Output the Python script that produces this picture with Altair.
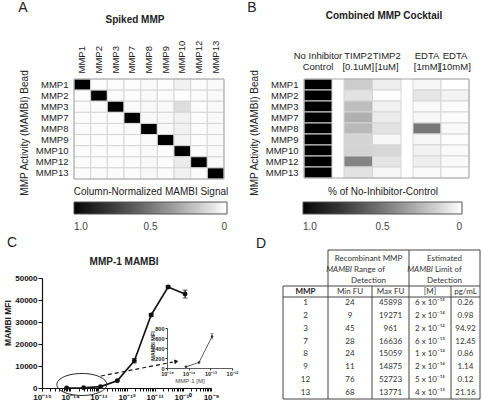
import altair as alt
import pandas as pd

SANS = "Liberation Sans"
TAB = "Lato"
INK = "#222222"

# ---------------- Panel A data (column-normalized signal, per spiked MMP column) ----------------
beads = ["MMP1", "MMP2", "MMP3", "MMP7", "MMP8", "MMP9", "MMP10", "MMP12", "MMP13"]
spiked = ["MMP1", "MMP2", "MMP3", "MMP7", "MMP8", "MMP9", "MMP10", "MMP12", "MMP13"]
a_col_mmp1 = [1.00, 0.01, 0.01, 0.01, 0.01, 0.01, 0.01, 0.01, 0.01]
a_col_mmp2 = [0.01, 1.00, 0.01, 0.01, 0.01, 0.01, 0.01, 0.01, 0.01]
a_col_mmp3 = [0.01, 0.01, 1.00, 0.01, 0.01, 0.01, 0.01, 0.01, 0.01]
a_col_mmp7 = [0.01, 0.01, 0.01, 1.00, 0.02, 0.01, 0.01, 0.01, 0.01]
a_col_mmp8 = [0.02, 0.02, 0.02, 0.02, 1.00, 0.02, 0.02, 0.02, 0.02]
a_col_mmp9 = [0.01, 0.01, 0.02, 0.02, 0.02, 1.00, 0.01, 0.01, 0.01]
a_col_mmp10 = [0.05, 0.00, 0.12, 0.05, 0.05, 0.04, 1.00, 0.07, 0.05]
a_col_mmp12 = [0.01, 0.01, 0.01, 0.01, 0.01, 0.01, 0.01, 1.00, 0.01]
a_col_mmp13 = [0.02, 0.02, 0.02, 0.02, 0.02, 0.02, 0.02, 0.02, 1.00]
a_cols = [a_col_mmp1, a_col_mmp2, a_col_mmp3, a_col_mmp7, a_col_mmp8,
          a_col_mmp9, a_col_mmp10, a_col_mmp12, a_col_mmp13]

# ---------------- Panel B data (% of no-inhibitor control) ----------------
b_conditions = ["No Inhibitor|Control", "TIMP2|[0.1uM]", "TIMP2|[1uM]", "EDTA|[1mM]", "EDTA|[10mM]"]
b_no_inhibitor = [1.0, 1.0, 1.0, 1.0, 1.0, 1.0, 1.0, 1.0, 1.0]
b_timp2_01 = [0.18, 0.10, 0.23, 0.28, 0.25, 0.15, 0.15, 0.45, 0.10]
b_timp2_1 = [0.06, 0.00, 0.05, 0.07, 0.10, 0.03, 0.14, 0.09, 0.03]
b_edta_1 = [0.03, 0.09, 0.02, 0.03, 0.50, 0.03, 0.05, 0.06, 0.02]
b_edta_10 = [0.00, 0.04, 0.01, 0.01, 0.02, 0.01, 0.02, 0.02, 0.01]
b_cols = [b_no_inhibitor, b_timp2_01, b_timp2_1, b_edta_1, b_edta_10]

# ---------------- Panel C data (MMP-1 MAMBI dilution series) ----------------
c_conc = [7.5e-15, 3.0e-14, 1.2e-13, 4.7e-13, 1.9e-12, 7.5e-12, 3.0e-11, 1.2e-10]
c_mfi = [24, 110, 630, 3300, 12400, 33200, 45898, 42700]
c_err = [5, 10, 60, 300, 1000, 600, 500, 1800]

# ---------------- Panel D table ----------------
d_mmp = ["1", "2", "3", "7", "8", "9", "12", "13"]
d_min_fu = ["24", "9", "45", "28", "24", "11", "76", "68"]
d_max_fu = ["45898", "19271", "961", "16636", "15059", "14875", "52723", "13771"]
d_lod_m = ["6 x 10⁻¹⁵", "2 x 10⁻¹⁴", "2 x 10⁻¹²", "6 x 10⁻¹³",
           "1 x 10⁻¹⁴", "2 x 10⁻¹⁴", "5 x 10⁻¹⁵", "4 x 10⁻¹³"]
d_lod_pg = ["0.26", "0.98", "94.92", "12.45", "0.86", "1.14", "0.12", "21.16"]

ONE = alt.Data(values=[{}])


def txt(text, x, y, size=10, weight="normal", angle=0, align="center", font=SANS,
        color=INK, style="normal"):
    return alt.Chart(ONE).mark_text(
        text=text, fontSize=size, fontWeight=weight, angle=angle, align=align,
        baseline="middle", font=font, color=color, fontStyle=style
    ).encode(x=alt.value(x), y=alt.value(y))


def rule(x1, y1, x2, y2, color="#444", width=1.0):
    return alt.Chart(ONE).mark_rule(color=color, strokeWidth=width).encode(
        x=alt.value(x1), y=alt.value(y1), x2=alt.value(x2), y2=alt.value(y2))


def frame(x1, y1, x2, y2, color="#999"):
    return alt.Chart(ONE).mark_rect(fill=None, stroke=color, strokeWidth=1).encode(
        x=alt.value(x1), y=alt.value(y1), x2=alt.value(x2), y2=alt.value(y2))


def gray_legend(x, length, title, show=True):
    if not show:
        return None
    return alt.Legend(
        orient="none", legendX=x, legendY=187, direction="horizontal",
        gradientLength=length, gradientThickness=12, title=title,
        titleFont=SANS, titleFontSize=10, titleFontWeight="normal", titleColor=INK,
        titleAnchor="middle", titlePadding=5, values=[1, 0.5, 0],
        labelExpr="datum.value == 0 ? '0' : format(datum.value, '.1f')",
        labelFont=SANS, labelFontSize=10, labelColor="#444", labelAlign="center",
        labelOffset=8, labelOverlap=False, gradientStrokeColor="#555",
        gradientStrokeWidth=1, padding=0)


gray_scale = alt.Scale(domain=[1, 0], range=["#000000", "#ffffff"])

# ---------------- Panel A ----------------
a_df = pd.DataFrame([
    {"spiked": s, "bead": b, "v": a_cols[j][i]}
    for j, s in enumerate(spiked) for i, b in enumerate(beads)
])
a_rect = alt.Chart(a_df).mark_rect(stroke="#d6d6d6", strokeWidth=1).encode(
    x=alt.X("spiked:N", sort=spiked,
            scale=alt.Scale(range=[74, 224], paddingInner=0, paddingOuter=0),
            axis=alt.Axis(orient="top", offset=-79, title=None, ticks=False, domain=False,
                          labelAngle=-90, labelPadding=6, labelFont=SANS, labelFontSize=9.5,
                          labelColor=INK)),
    y=alt.Y("bead:N", sort=beads,
            scale=alt.Scale(range=[79, 179], paddingInner=0, paddingOuter=0),
            axis=alt.Axis(orient="left", offset=-74, title=None, ticks=False, domain=False,
                          labelPadding=6, labelFont=SANS, labelFontSize=9.5, labelColor=INK)),
    color=alt.Color("v:Q", scale=gray_scale,
                    legend=gray_legend(74, 153, "Column-Normalized MAMBI Signal")),
)

# ---------------- Panel B ----------------
b_df = pd.DataFrame([
    {"cond": c, "bead": b, "v": b_cols[j][i]}
    for j, c in enumerate(b_conditions) for i, b in enumerate(beads)
])


def b_group(conds, xr, first):
    return alt.Chart(b_df).transform_filter(
        alt.FieldOneOfPredicate(field="cond", oneOf=conds)
    ).mark_rect(stroke="#d6d6d6", strokeWidth=1).encode(
        x=alt.X("cond:N", sort=conds,
                scale=alt.Scale(domain=conds, range=xr, paddingInner=0, paddingOuter=0),
                axis=alt.Axis(orient="top", offset=-79, title=None, ticks=False, domain=False,
                              labelAngle=0, labelPadding=19, labelFont=SANS, labelFontSize=9.5,
                              labelColor=INK, labelLineHeight=11, labelBaseline="bottom",
                              labelOverlap=False, labelExpr="split(datum.label, '|')")),
        y=alt.Y("bead:N", sort=beads,
                scale=alt.Scale(range=[79, 178], paddingInner=0, paddingOuter=0),
                axis=(alt.Axis(orient="left", offset=-304, title=None, ticks=False,
                               domain=False, labelPadding=6, labelFont=SANS,
                               labelFontSize=9.5, labelColor=INK) if first else None)),
        color=alt.Color("v:Q", scale=gray_scale,
                        legend=gray_legend(303, 159, "% of No-Inhibitor-Control", first)),
    )


b1 = b_group(b_conditions[0:1], [304, 332], True)
b2 = b_group(b_conditions[1:3], [344, 401], False)
b3 = b_group(b_conditions[3:5], [413, 469], False)

# ---------------- Panel C ----------------
c_df = pd.DataFrame({"conc": c_conc, "mfi": c_mfi, "err": c_err})

sup = {-15: "⁻¹⁵", -14: "⁻¹⁴", -13: "⁻¹³", -12: "⁻¹²", -11: "⁻¹¹", -10: "⁻¹⁰", -9: "⁻⁹"}
exp_expr = "round(log(datum.value)/LN10)"
lab = "''"
for k in sorted(sup):
    lab = f"{exp_expr} == {k} ? '10{sup[k]}' : ({lab})"
c_label_expr = f"abs(log(datum.value)/LN10 - {exp_expr}) > 0.01 ? '' : ({lab})"

decades = [1e-15, 1e-14, 1e-13, 1e-12, 1e-11, 1e-10, 1e-9]
c_tick_values = sorted([m * d for d in decades[:-1] for m in range(1, 10)] + [1e-9])

xs_c = alt.Scale(type="log", domain=[1e-15, 1e-9], range=[42, 211])
ys_c = alt.Scale(domain=[0, 50000], range=[388, 278], nice=False)
x_axis_c = alt.Axis(orient="bottom", offset=-18, title=None, values=c_tick_values,
                    labelExpr=c_label_expr, labelFont=SANS, labelFontSize=8,
                    labelFontWeight="bold", labelColor="#111", tickSize=3, tickColor="#111",
                    domainColor="#111", domainWidth=1.2, labelPadding=2, labelFlush=False,
                    labelOverlap=False, grid=False)
y_axis_c = alt.Axis(orient="left", offset=-42, title=None,
                    values=[0, 10000, 20000, 30000, 40000, 50000], format="d",
                    labelFont=SANS, labelFontSize=8, labelFontWeight="bold", labelColor="#111",
                    tickSize=4, tickColor="#111", domainColor="#111", domainWidth=1.2,
                    labelPadding=1, grid=False)

cx = alt.X("conc:Q", scale=xs_c, axis=x_axis_c)
cy = alt.Y("mfi:Q", scale=ys_c, axis=y_axis_c)

c_line = alt.Chart(c_df).mark_line(color="#111", strokeWidth=1.6).encode(x=cx, y=cy)
c_pts = alt.Chart(c_df).mark_circle(color="#111", size=24, opacity=1).encode(x=cx, y=cy)
c_err_df = c_df.assign(lo=lambda d: d.mfi - d.err, hi=lambda d: d.mfi + d.err)
c_ebar = alt.Chart(c_err_df).mark_rule(color="#111", strokeWidth=1).encode(
    x=cx, y=alt.Y("lo:Q", scale=ys_c, axis=y_axis_c), y2="hi:Q")
c_cap_lo = alt.Chart(c_err_df).mark_tick(color="#111", orient="horizontal", size=5,
                                         thickness=1).encode(
    x=cx, y=alt.Y("lo:Q", scale=ys_c, axis=y_axis_c))
c_cap_hi = alt.Chart(c_err_df).mark_tick(color="#111", orient="horizontal", size=5,
                                         thickness=1).encode(
    x=cx, y=alt.Y("hi:Q", scale=ys_c, axis=y_axis_c))

# annotation: ellipse around the low-concentration points, dashed arrow to the inset
ellipse_path = ("M -1 0 C -1 -0.243 -0.5523 -0.44 0 -0.44 C 0.5523 -0.44 1 -0.243 1 0 "
                "C 1 0.243 0.5523 0.44 0 0.44 C -0.5523 0.44 -1 0.243 -1 0 Z")
c_ellipse = alt.Chart(pd.DataFrame({"conc": [2.6e-14], "mfi": [1600]})).mark_point(
    shape=ellipse_path, size=2500, filled=False, stroke="#222", strokeWidth=1, opacity=1
).encode(x=cx, y=cy)
c_dash = alt.Chart(pd.DataFrame({"conc": [1.24e-13], "mfi": [5450],
                                 "conc2": [4.4e-11], "mfi2": [11800]})).mark_rule(
    color="#111", strokeWidth=1.2, strokeDash=[4, 3]
).encode(x=cx, y=cy, x2="conc2:Q", y2="mfi2:Q")
c_arrow = alt.Chart(pd.DataFrame({"conc": [5.9e-11], "mfi": [12050]})).mark_point(
    shape="triangle-right", size=22, filled=True, color="#111", angle=349, opacity=1
).encode(x=cx, y=cy)

c_main = alt.layer(c_line, c_ebar, c_cap_lo, c_cap_hi, c_pts, c_ellipse, c_dash, c_arrow)

# inset: first three points
ins_df = c_err_df.iloc[:3]
xs_i = alt.Scale(type="log", domain=[1e-15, 1e-12], range=[167, 232])
ys_i = alt.Scale(domain=[0, 800], range=[368, 328], nice=False)
ins_x_axis = alt.Axis(orient="bottom", offset=-38, title=None,
                      values=[1e-15, 1e-14, 1e-13, 1e-12], labelExpr=c_label_expr,
                      labelFont=SANS, labelFontSize=5.5, labelFontWeight="bold",
                      labelColor="#222", tickSize=2, tickColor="#333", domainColor="#333",
                      domainWidth=0.8, labelPadding=1, labelFlush=False, labelOverlap=False,
                      grid=False)
ins_y_axis = alt.Axis(orient="left", offset=-167, title=None, values=[0, 200, 400, 600, 800],
                      labelFont=SANS, labelFontSize=5.5, labelFontWeight="bold",
                      labelColor="#222", tickSize=2, tickColor="#333", domainColor="#333",
                      domainWidth=0.8, labelPadding=1, grid=False)
ix = alt.X("conc:Q", scale=xs_i, axis=ins_x_axis)
iy = alt.Y("mfi:Q", scale=ys_i, axis=ins_y_axis)
ins_line = alt.Chart(ins_df).mark_line(color="#333", strokeWidth=0.8).encode(x=ix, y=iy)
ins_pts = alt.Chart(ins_df).mark_circle(color="#333", size=6, opacity=1).encode(x=ix, y=iy)
ins_err = alt.Chart(ins_df).mark_rule(color="#333", strokeWidth=0.7).encode(
    x=ix, y=alt.Y("lo:Q", scale=ys_i, axis=ins_y_axis), y2="hi:Q")
ins_cap = alt.Chart(ins_df).mark_tick(color="#333", orient="horizontal", size=3,
                                      thickness=0.7).encode(
    x=ix, y=alt.Y("hi:Q", scale=ys_i, axis=ins_y_axis))
c_inset = alt.layer(ins_line, ins_err, ins_cap, ins_pts)

# ---------------- Panel D (table) ----------------
d_df = pd.DataFrame({"mmp": d_mmp, "minfu": d_min_fu, "maxfu": d_max_fu,
                     "lodm": d_lod_m, "lodpg": d_lod_pg})
d_y = alt.Y("mmp:N", sort=d_mmp, scale=alt.Scale(range=[297, 399]), axis=None)
TS = 8


def d_col(field, xc):
    return alt.Chart(d_df).mark_text(font=TAB, fontSize=TS, color="#333",
                                     baseline="middle").encode(
        x=alt.value(xc), y=d_y, text=f"{field}:N")


d_table = alt.layer(
    d_col("mmp", 305.5), d_col("minfu", 350), d_col("maxfu", 390.5),
    d_col("lodm", 430), d_col("lodpg", 465.5))

d_lines = [
    rule(328, 250, 480, 250), rule(283, 286, 480, 286), rule(283, 297, 480, 297),
    rule(283, 399, 480, 399),
    rule(283, 286, 283, 399), rule(328, 250, 328, 399), rule(372, 286, 372, 399),
    rule(409, 250, 409, 399), rule(451, 286, 451, 399), rule(480, 250, 480, 399),
]
d_texts = [
    txt("Recombinant MMP", 368.5, 259, TS, font=TAB, color="#333"),
    txt("MAMBI", 352, 270, TS, font=TAB, color="#333", style="italic", align="right"),
    txt("Range of", 354, 270, TS, font=TAB, color="#333", align="left"),
    txt("Detection", 368.5, 280.5, TS, font=TAB, color="#333"),
    txt("Estimated", 444.5, 259, TS, font=TAB, color="#333"),
    txt("MAMBI", 433, 270, TS, font=TAB, color="#333", style="italic", align="right"),
    txt("Limit of", 435, 270, TS, font=TAB, color="#333", align="left"),
    txt("Detection", 444.5, 280.5, TS, font=TAB, color="#333"),
    txt("MMP", 305.5, 291.5, TS, weight="bold", font=TAB, color="#222"),
    txt("Min FU", 350, 291.5, TS, font=TAB, color="#333"),
    txt("Max FU", 390.5, 291.5, TS, font=TAB, color="#333"),
    txt("[M]", 430, 291.5, TS, font=TAB, color="#333"),
    txt("pg/mL", 465.5, 291.5, TS, font=TAB, color="#333"),
]

# ---------------- titles, panel letters, decorations ----------------
texts = [
    txt("A", 23, 8, 14), txt("B", 252, 8, 14), txt("C", 12, 243, 14), txt("D", 261, 244, 14),
    txt("Spiked  MMP", 135, 20, 10, weight="bold"),
    txt("Combined  MMP Cocktail", 384, 16, 10, weight="bold"),
    txt("MMP Activity (MAMBI) Bead", 25, 133, 10, angle=270),
    txt("MMP Activity (MAMBI) Bead", 255, 133, 10, angle=270),
    txt("MMP-1 MAMBI", 124, 262, 10, weight="bold"),
    txt("MAMBI MFI", 8, 323, 8.5, weight="bold", angle=270),
    txt("MAMBI MFI", 153, 346, 5.5, weight="bold", angle=270),
    txt("MMP-1 [M]", 190, 381, 6, color="#444"),
]
decor = [
    frame(74, 79, 224, 179, "#a8a8a8"),
    frame(304, 79, 469, 178, "#a8a8a8"),
    rule(150.5, 202, 150.5, 206, "#444"),
    rule(382.5, 202, 382.5, 206, "#444"),
]

chart = alt.layer(
    a_rect, b1, b2, b3, c_main, c_inset, d_table, *d_lines, *d_texts, *texts, *decor
).resolve_scale(
    x="independent", y="independent", color="independent"
).properties(
    width=482, height=406, padding=0, autosize="none", background="white"
).configure_view(stroke=None)

chart.save("out.html", embed_options={"renderer": "svg", "actions": False})
